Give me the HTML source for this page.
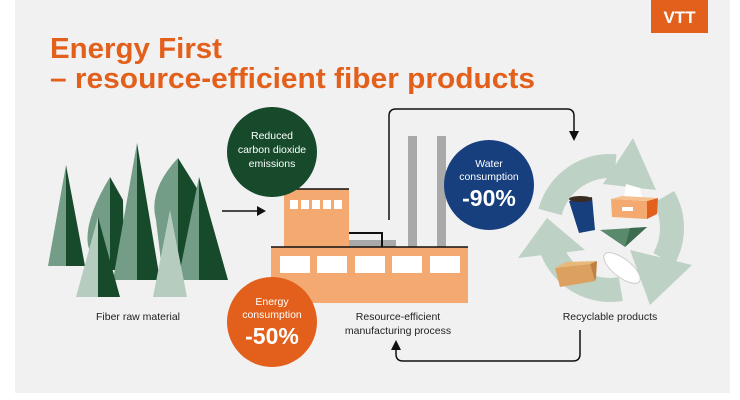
<!DOCTYPE html>
<html><head><meta charset="utf-8"><style>
html,body{margin:0;padding:0;background:#fff;}
svg{display:block;}
text{font-family:"Liberation Sans",Arial,sans-serif;}
</style></head><body>
<svg width="740" height="400" viewBox="0 0 740 400" xmlns="http://www.w3.org/2000/svg">
<rect x="15" y="0" width="715" height="393" fill="#f1f1f1"/>
<rect x="651" y="0" width="57" height="33" fill="#e3601c"/>
<text x="679.5" y="23" text-anchor="middle" font-size="17" font-weight="bold" fill="#fff">VTT</text>
<text x="50" y="58" font-size="28.5" font-weight="bold" fill="#e3601c" textLength="172" lengthAdjust="spacingAndGlyphs">Energy First</text>
<text x="50" y="88" font-size="28.5" font-weight="bold" fill="#e3601c" textLength="485" lengthAdjust="spacingAndGlyphs">– resource-efficient fiber products</text>

<!-- trees -->
<g>
<polygon points="66,165 48,266 66,266" fill="#739d86"/><polygon points="66,165 85,266 66,266" fill="#164a2b"/>
<path d="M110,177 Q84,220 88,245 L95,270 L110,270 Z" fill="#739d86"/><path d="M110,177 L123,200 L124,270 L110,270 Z" fill="#164a2b"/>
<path d="M178,158 Q148,190 156,220 L162,270 L178,270 Z" fill="#739d86"/><path d="M178,158 L198,190 L198,270 L178,270 Z" fill="#164a2b"/>
<polygon points="137,143 113,280 137,280" fill="#739d86"/><polygon points="137,143 160,280 137,280" fill="#164a2b"/>
<polygon points="199,177 178,280 199,280" fill="#739d86"/><polygon points="199,177 228,280 199,280" fill="#164a2b"/>
<polygon points="98,217 76,297 98,297" fill="#b6ccbe"/><polygon points="98,217 120,297 98,297" fill="#164a2b"/>
<polygon points="170,210 153,297 187,297" fill="#b6ccbe"/>
</g>
<text x="138" y="320" text-anchor="middle" font-size="10.5" fill="#222">Fiber raw material</text>

<line x1="222" y1="211" x2="258" y2="211" stroke="#111" stroke-width="1.5"/>
<polygon points="266,211 257,206 257,216" fill="#111"/>

<!-- factory -->
<rect x="408" y="136" width="9" height="111" fill="#a9a9a9"/>
<rect x="437" y="136" width="9" height="111" fill="#a9a9a9"/>
<rect x="349" y="240" width="47" height="7" fill="#a9a9a9"/>
<path d="M349,233 H382 V247" fill="none" stroke="#111" stroke-width="2"/>
<rect x="284" y="189" width="65" height="58" fill="#f3a96f"/>
<line x1="284" y1="189" x2="349" y2="189" stroke="#111" stroke-width="1.5"/>
<g fill="#fff"><rect x="290" y="200" width="8" height="9"/><rect x="301" y="200" width="8" height="9"/><rect x="312" y="200" width="8" height="9"/><rect x="323" y="200" width="8" height="9"/><rect x="334" y="200" width="8" height="9"/></g>
<rect x="271" y="247" width="197" height="56" fill="#f3a96f"/>
<line x1="271" y1="247" x2="468" y2="247" stroke="#111" stroke-width="1.5"/>
<g fill="#fff"><rect x="280" y="256" width="30" height="17"/><rect x="317" y="256" width="30" height="17"/><rect x="355" y="256" width="30" height="17"/><rect x="392" y="256" width="30" height="17"/><rect x="430" y="256" width="30" height="17"/></g>
<text x="398" y="320" text-anchor="middle" font-size="10.5" fill="#222">Resource-efficient</text>
<text x="398" y="334" text-anchor="middle" font-size="10.5" fill="#222">manufacturing process</text>

<!-- circles -->
<circle cx="272" cy="152" r="45" fill="#164a2b"/>
<text x="272" y="139" text-anchor="middle" font-size="10.5" fill="#fff">Reduced</text>
<text x="272" y="153" text-anchor="middle" font-size="10.5" fill="#fff">carbon dioxide</text>
<text x="272" y="167" text-anchor="middle" font-size="10.5" fill="#fff">emissions</text>
<circle cx="272" cy="322" r="45" fill="#e3601c"/>
<text x="272" y="305" text-anchor="middle" font-size="10.5" fill="#fff">Energy</text>
<text x="272" y="318" text-anchor="middle" font-size="10.5" fill="#fff">consumption</text>
<text x="272" y="344" text-anchor="middle" font-size="23" font-weight="bold" fill="#fff">-50%</text>
<circle cx="489" cy="185" r="45" fill="#173f7d"/>
<text x="489" y="167" text-anchor="middle" font-size="10.5" fill="#fff">Water</text>
<text x="489" y="180" text-anchor="middle" font-size="10.5" fill="#fff">consumption</text>
<text x="489" y="206" text-anchor="middle" font-size="23" font-weight="bold" fill="#fff">-90%</text>

<!-- loop arrows -->
<path d="M389,220 V116 Q389,109 396,109 H567 Q574,109 574,116 V132" fill="none" stroke="#111" stroke-width="1.5"/>
<polygon points="574,141 569,131 579,131" fill="#111"/>
<path d="M580,330 V354 Q580,361 573,361 H403 Q396,361 396,354 V348" fill="none" stroke="#111" stroke-width="1.5"/>
<polygon points="396,340 391,350 401,350" fill="#111"/>

<!-- recycle -->
<g fill="none" stroke="#bdd1c5" stroke-width="24">
<path d="M550.1,212 A62,62 0 0 1 615.4,166.2"/>
<path d="M663.7,197 A62,62 0 0 1 663.7,259"/>
<path d="M620.8,289 A62,62 0 0 1 551.7,249"/>
</g>
<g fill="#bdd1c5">
<polygon points="633,138 603,184 656,190"/>
<polygon points="630,250 692,265 650,305"/>
<polygon points="547,218 518,258 585,250"/>
</g>
<!-- products -->
<polygon points="569,201 592,197 595,230 579,233" fill="#173f7d"/>
<ellipse cx="580.5" cy="199" rx="11.5" ry="3" fill="#3a2a20"/>
<path d="M624,198 L626,184 L640,188 L642,198 Z" fill="#fff"/>
<polygon points="611,199 647,201 647,219 612,217" fill="#f3a96f"/>
<polygon points="647,201 658,198 657,214 647,219" fill="#e3601c"/>
<polygon points="611,199 622,196 658,198 647,201" fill="#f7c08f"/>
<rect x="622" y="207" width="11" height="4" fill="#fff"/>
<polygon points="600,230 647,227 625,247" fill="#5a8a6c"/>
<polygon points="630,228 647,227 625,247" fill="#3d6b50"/>
<polygon points="555,268 590,264 595,281 560,287" fill="#dca061"/>
<polygon points="555,268 566,262 597,261 590,264" fill="#e8b878"/>
<polygon points="590,264 597,261 596,278 595,281" fill="#c08040"/>
<ellipse cx="626" cy="273" rx="7" ry="7" fill="#d6d6d6"/>
<ellipse cx="622" cy="268" rx="22" ry="9" transform="rotate(38 622 268)" fill="#fff" stroke="#ccc" stroke-width="1"/>
<text x="610" y="320" text-anchor="middle" font-size="10.5" fill="#222">Recyclable products</text>
</svg>
</body></html>
